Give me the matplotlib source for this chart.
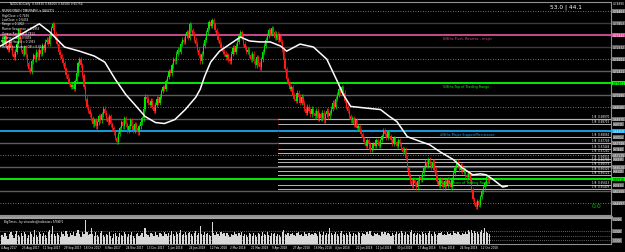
import numpy as np
import matplotlib
matplotlib.use("Agg")
import matplotlib.pyplot as plt
from matplotlib.transforms import blended_transform_factory
from matplotlib.lines import Line2D

# ---------------- data ----------------
first_open = 0.7290
closes_pips = [
    7300, 7280, 7320, 7270, 7250, 7290,
    7260, 7230, 7210, 7240, 7280, 7350, 7300,
    7250, 7230, 7260, 7220, 7180, 7150, 7140,
    7190, 7220, 7200, 7240, 7210, 7250,
    7230, 7270, 7250, 7290, 7300, 7280, 7320,
    7360, 7380, 7330, 7300, 7280, 7240, 7220,
    7200, 7180, 7150, 7120, 7100, 7080, 7060,
    7070, 7050, 7090, 7130, 7180, 7200,
    7170, 7120, 7060, 7000, 6960, 6940, 6920,
    6900, 6870, 6890, 6860, 6880, 6910, 6890,
    6920, 6950, 6930, 6900, 6880, 6910,
    6870, 6850, 6830, 6800, 6780, 6820, 6850,
    6880, 6860, 6900, 6870, 6840, 6860, 6890,
    6860, 6840, 6870, 6850, 6830, 6860, 6880,
    6900, 6950, 7010, 7000, 6980, 6970,
    6990, 6960, 6940, 6970, 7000, 6980, 7010,
    7040, 7060, 7050, 7090, 7110, 7140, 7130,
    7170, 7200, 7190, 7230, 7250, 7240,
    7280, 7300, 7290, 7320, 7340, 7310, 7380,
    7350, 7330, 7300, 7280, 7250, 7220, 7190,
    7230, 7270, 7300, 7340, 7360, 7390, 7370,
    7400, 7380, 7350, 7330, 7300, 7280,
    7260, 7240, 7230, 7210, 7220, 7200, 7190,
    7230, 7260, 7240, 7270, 7290, 7320, 7340,
    7310, 7280, 7260, 7240, 7250, 7220,
    7200, 7230, 7190, 7170, 7210, 7180, 7160,
    7200, 7240, 7270, 7300, 7320, 7350, 7330,
    7360, 7340, 7310, 7330, 7300, 7320, 7290,
    7250, 7200, 7150, 7100, 7080, 7050,
    7060, 7020, 7000, 6990, 7030, 7010, 6980,
    7010, 6980, 6950, 6930, 6960, 6940, 6920,
    6950, 6930, 6910, 6940, 6900, 6920,
    6900, 6930, 6890, 6920, 6940, 6910, 6930,
    6950, 6980, 6960, 7000, 7020, 7050, 7030,
    7060, 7030, 6990, 6960, 6940, 6910, 6890,
    6900, 6870, 6890, 6850, 6860, 6840,
    6820, 6800, 6780, 6760, 6790, 6770, 6740,
    6750, 6770, 6760, 6790, 6780, 6760, 6790,
    6810, 6840, 6820, 6800, 6830, 6810,
    6790, 6770, 6800, 6780, 6760, 6790, 6770,
    6750, 6730, 6740, 6700, 6650, 6610, 6580,
    6560, 6590, 6570, 6550, 6580, 6600, 6590,
    6620, 6650, 6680, 6660, 6690, 6670,
    6650, 6680, 6640, 6610, 6580, 6560, 6590,
    6570, 6550, 6580, 6560, 6590, 6570, 6550,
    6590, 6620, 6650, 6680, 6660, 6640,
    6660, 6630, 6640, 6610, 6600, 6620, 6590,
    6540, 6490, 6470, 6450, 6480, 6460, 6500,
    6530, 6550, 6570, 6600, 6590, 6580,
]
volumes = [
    35, 28, 42, 30, 20, 38, 45, 33, 25, 40, 50, 36, 28, 44,
    30, 48, 38, 22, 35, 46, 40, 28, 52, 34, 26, 45, 38, 30,
    42, 36, 25, 48, 55, 40, 70, 38, 30, 44, 35, 28, 46, 40,
    32, 50, 38, 26, 44, 36, 48, 30, 42, 54, 38, 28, 46, 40,
    92, 45, 35, 40, 62, 38, 30, 46, 34, 26, 42, 50, 36, 28,
    40, 34, 48, 30, 24, 38, 44, 32, 26, 42, 36, 30, 46, 38,
    28, 40, 34, 46, 30, 24, 38, 42, 32, 36, 44, 28, 60, 40,
    34, 26, 42, 38, 30, 46, 36, 28, 44, 40, 32, 48, 38, 30,
    42, 36, 50, 40, 32, 46, 38, 44, 52, 36, 40, 48, 34, 42,
    46, 38, 30, 44, 50, 36, 42, 70, 40, 34, 48, 38, 44, 36,
    30, 85, 42, 36, 48, 40, 32, 46, 38, 44, 30, 42, 36, 28,
    40, 34, 46, 38, 30, 42, 36, 48, 32, 40, 34, 26, 44, 38,
    30, 42, 36, 28, 44, 38, 32, 46, 40, 34, 48, 36, 30, 42,
    38, 44, 32, 40, 36, 28, 46, 52, 40, 34, 42, 30, 38, 44,
    36, 30, 42, 48, 34, 40, 32, 46, 38, 30, 44, 36, 40, 34,
    42, 38, 30, 46, 40, 34, 48, 36, 44, 38, 60, 42, 34, 40,
    46, 38, 32, 44, 50, 40, 36, 42, 34, 46, 38, 30, 44, 40,
    36, 48, 42, 30, 44, 38, 34, 46, 40, 50, 36, 32, 44, 38,
    42, 36, 30, 46, 40, 48, 34, 42, 38, 32, 44, 36, 40, 46,
    38, 44, 50, 42, 36, 48, 40, 34, 46, 52, 38, 42, 36, 44,
    40, 34, 48, 38, 44, 36, 42, 50, 38, 32, 46, 40, 36, 44,
    42, 48, 36, 40, 34, 46, 38, 44, 36, 50, 42, 38, 46, 40,
    36, 44, 40, 48, 38, 52, 46, 55, 42, 50, 44, 48, 40, 46,
    52, 44, 60, 48, 42, 38,
]
# white moving-average line, read at sample bars (bar index, price)
ma_bars = [-1, 25, 32, 42, 52, 62, 69, 76, 83, 89, 96, 103, 109, 116, 123, 130,
           133, 136, 140, 146, 153, 160, 166, 173, 180, 187, 191, 200, 209, 218,
           225, 229, 234, 240, 254, 260, 265, 272, 281, 287, 294, 303, 309, 316,
           321, 325, 330, 336, 339]
ma_vals = [0.7268, 0.7381, 0.7340, 0.7263, 0.7242, 0.7217, 0.7186, 0.7099, 0.7022,
           0.6971, 0.6910, 0.6879, 0.6874, 0.6894, 0.6945, 0.7007, 0.7048, 0.7114,
           0.7186, 0.7242, 0.7278, 0.7314, 0.7294, 0.7289, 0.7289, 0.7268, 0.7242,
           0.7278, 0.7263, 0.7201, 0.7089, 0.7022, 0.6961, 0.6956, 0.6945, 0.6910,
           0.6884, 0.6807, 0.6782, 0.6766, 0.6730, 0.6690, 0.6648, 0.6613, 0.6618,
           0.6613, 0.6587, 0.6551, 0.6556]
date_labels = ["4 Aug 2017", "23 Aug 2017", "11 Sep 2017", "29 Sep 2017", "18 Oct 2017",
               "6 Nov 2017", "24 Nov 2017", "13 Dec 2017", "1 Jan 2018", "24 Jan 2018",
               "12 Feb 2018", "2 Mar 2018", "21 Mar 2018", "9 Apr 2018", "27 Apr 2018",
               "16 May 2018", "4 Jun 2018", "22 Jun 2018", "11 Jul 2018", "30 Jul 2018",
               "17 Aug 2018", "5 Sep 2018", "24 Sep 2018", "12 Oct 2018"]
date_ticks = list(range(0, 14 * len(date_labels), 14))

# Murrey math grid: 1/32-octave steps of 0.0061035
murrey_levels = [0.74463, 0.73853, 0.73242, 0.72632, 0.72021, 0.71411, 0.70801, 0.70190,
                 0.69580, 0.68970, 0.68359, 0.67749, 0.67139, 0.66528, 0.65918, 0.65308,
                 0.64697]
murrey_kind = ["dot", "dark", "pink", "dark", "dot", "gray", "green", "gray",
               "dot", "gray", "blue", "gray", "dot", "gray", "green", "gray", "dot"]
murrey_texts = {"pink": "6/8ths Pivot, Reverse - major",
                "green_top": "5/8ths Top of Trading Range",
                "blue": "4/8ths Major Support/Resistance",
                "green_bot": "3/8ths Bottom of Trading Range"}
fib_levels = [0.68970, 0.68715, 0.68054, 0.67749, 0.67444, 0.67240, 0.66935, 0.66783,
              0.66579, 0.66325, 0.66121, 0.65613, 0.65409]
info_lines = ["MURREYMATH TIMEFRAME is DAILY/D1", "HighClose = 0.7436", "LowClose = 0.6434",
              "Range = 0.1002", "Master Sequence = 0.1953", "Octave Range = 0.7813",
              "Octave Low = 0.5859", "Octave Height = 0.1953", "Height to Reverse Off = 0.0244"]
header = "NZDUSD,Daily  0.65830 0.66000 0.65580 0.65754"

# ---------------- figure ----------------
BG = "black"
fig = plt.figure(figsize=(6.25, 2.53), dpi=100, facecolor=BG)
W, H = 625.0, 253.0
ax = fig.add_axes([0, 1 - 216 / H, 611 / W, 213 / H], facecolor=BG)
vax = fig.add_axes([0, 1 - 245 / H, 611 / W, 26 / H], facecolor=BG)

closes = np.array(closes_pips) / 10000.0
opens = np.concatenate([[first_open], closes[:-1]])
idx = np.arange(len(closes))
WICK = 0.0012
highs = np.maximum(opens, closes) + WICK
lows = np.minimum(opens, closes) - WICK

ax.set_xlim(-1.34, 408.7)
ax.set_ylim(0.64087, 0.74920)

cols = {"dot": "#9a9a9a", "dark": "#3a3a3a", "gray": "#5c5c5c", "pink": "#D9509A",
        "green": "#00FF00", "blue": "#18A8F0"}
for lv, k in zip(murrey_levels, murrey_kind):
    if k == "dot":
        ax.axhline(lv, color=cols[k], lw=0.6, ls=(0, (1, 2)), zorder=1)
    elif k in ("pink", "green", "blue"):
        ax.axhline(lv, color=cols[k], lw=1.3, zorder=1)
    else:
        ax.axhline(lv, color=cols[k], lw=1.0, zorder=1)

# right-side level lines
for lv in fib_levels:
    ax.plot([185, 408.7], [lv, lv], color="#b8b8b8", lw=0.7, zorder=1)
    ax.text(407.5, lv + 0.0003, "1/8  %.5f" % lv, color="white", fontsize=2.0,
            ha="right", va="bottom", zorder=6)
ax.plot([185, 185], [0.6730, 0.6900], color="#8b0000", lw=0.6, ls=(0, (1, 1.5)), zorder=1)

# candles
up = closes >= opens
ccol = np.where(up, "#00E800", "#FF1A1A")
ax.vlines(idx, lows, highs, colors=ccol, lw=0.5, zorder=3)
body_h = np.maximum(np.abs(closes - opens), 0.0003)
ax.bar(idx, body_h, bottom=np.minimum(opens, closes), width=0.85, color=ccol,
       linewidth=0, zorder=3)

# moving average
ax.plot(ma_bars, ma_vals, color="white", lw=1.1, zorder=4)

# Murrey labels
lx = 296
ax.text(lx, 0.73242 - 0.0004, murrey_texts["pink"], color=cols["pink"], fontsize=2.4,
        va="top", ha="left", zorder=5)
ax.text(lx, 0.70801 - 0.0004, murrey_texts["green_top"], color=cols["green"], fontsize=2.4,
        va="top", ha="left", zorder=5)
ax.text(lx - 2, 0.68359 - 0.0004, murrey_texts["blue"], color=cols["blue"], fontsize=2.4,
        va="top", ha="left", zorder=5)
ax.text(lx - 4, 0.65918 - 0.0004, murrey_texts["green_bot"], color=cols["green"], fontsize=2.4,
        va="top", ha="left", zorder=5)

# top texts
fig.text(10 / W, 1 - 4 / H, header, color="white", fontsize=2.1, va="center", ha="left")
for k, t in enumerate(info_lines):
    fig.text(2 / W, 1 - (11 + 4.5 * k) / H, t, color="white", fontsize=2.0,
             va="center", ha="left")
fig.text(566 / W, 1 - 7 / H, "53.0 | 44.1", color="white", fontsize=4.2,
         va="center", ha="center")
ax.text(399, 0.6458, "0.0", color="#00C000", fontsize=4.5, ha="center", va="center")

# right price-axis labels
tr = blended_transform_factory(ax.transAxes, ax.transData)
box_col = {"dot": "#707070", "dark": "#505050", "gray": "#707070", "pink": "#D9509A",
           "green": "#00FF00", "blue": "#18A8F0"}
for lv, k in zip(murrey_levels, murrey_kind):
    tc = "black" if k == "green" else "white"
    ax.text(1.003, lv, "%.5f" % lv, transform=tr, color=tc, fontsize=2.1, ha="left",
            va="center", clip_on=False,
            bbox=dict(boxstyle="square,pad=0.15", fc=box_col[k], ec="none"))
# axis boxes only for right-side levels that do not sit on a Murrey line
shown = []
for lv in fib_levels:
    if min(abs(lv - m) for m in murrey_levels) < 0.0012:
        continue
    if shown and abs(lv - shown[-1]) < 0.0028:
        continue
    shown.append(lv)
    ax.text(1.003, lv, "%.5f" % lv, transform=tr, color="white", fontsize=1.9,
            ha="left", va="center", clip_on=False,
            bbox=dict(boxstyle="square,pad=0.1", fc="#666666", ec="none"))
ax.text(1.003, 0.7486, "0.74890", transform=tr, color="white", fontsize=2.1, ha="left",
        va="center", clip_on=False)

for a in (ax, vax):
    a.set_xticks([])
    a.set_yticks([])
    for s in a.spines.values():
        s.set_color("#909090")
        s.set_linewidth(0.8)
ax.spines["left"].set_visible(False)
vax.spines["left"].set_visible(False)

# separator between panels
fig.add_artist(Line2D([0, 611 / W], [1 - 217.5 / H] * 2, color="#a0a0a0", lw=2.0,
                      transform=fig.transFigure))

# volume panel
vax.set_xlim(-1.34, 408.7)
vax.set_ylim(0, 100)
vax.bar(idx, volumes, width=0.8, color="#d8d8d8", linewidth=0, zorder=3)
for yv in (50, 30, 14):
    vax.axhline(yv, color="#c0c0c0", lw=0.5, ls=(0, (1, 2)), zorder=2)
vax.text(1.5, 88, "BigTimes - by vincodes@indicators 5/9/W/1", color="white",
         fontsize=2.0, va="center", ha="left", zorder=5)
vtr = blended_transform_factory(vax.transAxes, vax.transData)
for yv, t in ((96, "0.0000"), (50, "0.0000"), (14, "0.0000")):
    vax.text(1.003, yv, t, transform=vtr, color="white", fontsize=2.0, ha="left",
             va="center", clip_on=False,
             bbox=dict(boxstyle="square,pad=0.12", fc="#666666", ec="none"))

# date labels
for t, lab in zip(date_ticks, date_labels):
    x = (2 + t * 1.49) / W
    fig.text(x - 1 / W, 1 - 248.5 / H, lab, color="white", fontsize=2.0, ha="left",
             va="center")

fig.savefig("out.png", dpi=100, facecolor=BG)
